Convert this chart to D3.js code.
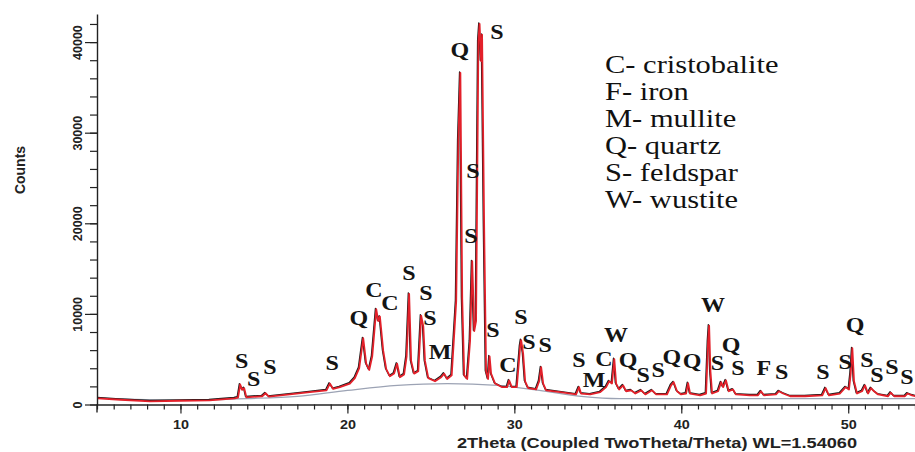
<!DOCTYPE html>
<html>
<head>
<meta charset="utf-8">
<script src="https://cdn.jsdelivr.net/npm/d3@7"></script>
<style>
  html, body { margin: 0; padding: 0; background: #fff; }
  svg { display: block; }
</style>
</head>
<body>
<svg id="chart" width="915" height="452"></svg>
<script>
// ---- data ----
// diffraction pattern: [2theta (deg), counts]
const patternPoints = [
  [5.0,770],[6.35,610],[8.14,440],[9.94,500],[11.7,550],[13.2,770],[13.4,850],[13.53,2300],[13.65,1700],[13.77,1900],[13.9,880],
  [14.85,1000],[15.05,1330],[15.25,950],[16.5,1200],[17.7,1450],[18.7,1650],[18.9,2400],[19.1,1800],[19.5,2000],[20.1,2400],
  [20.4,3000],[20.66,4100],[20.9,7400],[21.08,4600],[21.26,3900],[21.44,5400],[21.68,10600],[21.8,9300],[21.9,9800],[22.1,6000],
  [22.28,4000],[22.5,3200],[22.75,3500],[22.93,4600],[23.1,3100],[23.35,3400],[23.5,5400],[23.65,12300],[23.77,4900],[23.95,3500],
  [24.2,3750],[24.37,9900],[24.5,8700],[24.6,4900],[24.8,3000],[25.2,2650],[25.57,3100],[25.75,3500],[25.93,2900],[26.2,3300],
  [26.47,11500],[26.6,29200],[26.72,36700],[26.83,11800],[26.95,3300],[27.13,2900],[27.3,7100],[27.43,15900],[27.55,8200],[27.66,9300],
  [27.8,40200],[27.87,42100],[27.96,38000],[28.02,40900],[28.14,20300],[28.26,3750],[28.38,2900],[28.47,5400],[28.56,3500],[28.8,2400],
  [29.22,2000],[29.52,2000],[29.64,2750],[29.8,2000],[30.1,2000],[30.3,6500],[30.36,7200],[30.48,5700],[30.6,2650],[30.78,1900],
  [31.26,1750],[31.44,2650],[31.56,4200],[31.68,2400],[31.86,1650],[32.7,1450],[33.65,1200],[33.83,2000],[33.95,1300],[34.5,1200],
  [35.1,1450],[35.45,2000],[35.63,2650],[35.8,2400],[35.94,5100],[36.05,2400],[36.23,1750],[36.47,2200],[36.65,1550],[36.95,1650],
  [37.2,1300],[37.55,1650],[37.8,1200],[38.2,1650],[38.45,1200],[39.1,1200],[39.34,2200],[39.5,2550],[39.7,1550],[39.94,1200],
  [40.24,1300],[40.36,2450],[40.48,1300],[41.08,1100],[41.44,1300],[41.56,7100],[41.62,8800],[41.7,3750],[41.8,1300],[42.16,1550],
  [42.34,2550],[42.46,2000],[42.63,2750],[42.8,1550],[43.05,1750],[43.23,1200],[44.07,1100],[44.55,1100],[44.73,1550],[44.9,1100],
  [45.63,1200],[45.8,1550],[46.05,1300],[46.47,1000],[47.37,1000],[48.4,1100],[48.6,1900],[48.8,1100],[49.46,1300],[49.8,2000],
  [50.0,1750],[50.1,3500],[50.2,6300],[50.3,2650],[50.48,1300],[50.78,1550],[50.96,2200],[51.14,1300],[51.32,1900],[51.5,1550],
  [51.74,1200],[52.34,1000],[52.5,1400],[52.7,1000],[53.35,1000],[53.5,1300],[53.77,1100],[54.0,1000]
];

// amorphous background hump: [2theta, counts]
const amorphousBackground = [
  [5,700],[10,480],[14,650],[17,900],[20,1550],[23,2100],[26,2300],[29,2100],[31.5,1550],[34,900],[36.3,650],[54,650]
];

// phase marks: [letter, 2theta, counts] (label anchor in data units)
const phaseLabels = [
  ["S",13.66,4800],["S",14.38,2800],["S",15.36,4140],["S",19.08,4580],["Q",20.69,9550],["C",21.59,12640],
  ["C",22.55,11200],["S",23.69,14520],["S",24.71,12310],["S",24.95,9550],["M",25.55,5800],["Q",26.74,39140],
  ["S",28.96,41120],["S",27.52,25780],["S",27.40,18600],["S",28.72,8220],["C",29.62,4360],["S",30.40,9660],
  ["S",30.88,6900],["S",31.84,6570],["S",33.87,4910],["M",34.77,2700],["C",35.37,5020],["W",36.09,7670],
  ["Q",36.81,4910],["S",37.71,3260],["S",38.61,3810],["Q",39.44,5240],["Q",40.64,4800],["W",41.90,10980],
  ["S",42.17,4580],["Q",42.98,6570],["S",43.40,4030],["F",44.95,4030],["S",46.01,3590],["S",48.49,3590],
  ["S",49.81,4690],["Q",50.41,8780],["S",51.12,4910],["S",51.72,3260],["S",52.62,4140],["S",53.52,3040]
];

const legendItems = ["C- cristobalite", "F- iron", "M- mullite", "Q- quartz", "S- feldspar", "W- wustite"];

const xMajorTicks = [10, 20, 30, 40, 50];
const xMinorTicks = d3.range(5, 55, 1);
const yMajorTicks = [0, 10000, 20000, 30000, 40000];
const yMinorTicks = d3.range(0, 43001, 2000);

const xTitle = "2Theta (Coupled TwoTheta/Theta) WL=1.54060";
const yTitle = "Counts";

// ---- drawing ----
const svg = d3.select("#chart");
const x = d3.scaleLinear().domain([5, 54]).range([97, 915]);
const y = d3.scaleLinear().domain([0, 43100]).range([404.5, 14]);

// background hump
svg.append("path")
  .datum(amorphousBackground)
  .attr("fill", "none")
  .attr("stroke", "#9ca3b4")
  .attr("stroke-width", 1.2)
  .attr("d", d3.line().x(d => x(d[0])).y(d => y(d[1])).curve(d3.curveMonotoneX));

const line = d3.line().x(d => x(d[0])).y(d => y(d[1]));

svg.append("path")
  .datum(patternPoints)
  .attr("fill", "none")
  .attr("stroke", "#1a1a1a")
  .attr("stroke-width", 1.4)
  .attr("stroke-linejoin", "round")
  .attr("d", line);

svg.append("path")
  .datum(patternPoints)
  .attr("fill", "none")
  .attr("stroke", "#e3202a")
  .attr("stroke-width", 1.8)
  .attr("stroke-linejoin", "round")
  .attr("transform", "translate(0.8,0.8)")
  .attr("d", line);

// axes
function styleAxis(g) {
  g.select(".domain").attr("stroke", "#222").attr("stroke-width", 1.4);
  g.selectAll(".tick line").attr("stroke", "#222").attr("stroke-width", 1.2);
}

const yAxisMinor = svg.append("g").attr("transform", "translate(97,0)")
  .call(d3.axisLeft(y).tickValues(yMinorTicks).tickSize(7).tickSizeOuter(0).tickFormat(""));
styleAxis(yAxisMinor);
const yAxisMajor = svg.append("g").attr("transform", "translate(97,0)")
  .call(d3.axisLeft(y).tickValues(yMajorTicks).tickSize(12).tickSizeOuter(0).tickFormat(d3.format("d")));
styleAxis(yAxisMajor);
yAxisMajor.select(".domain").remove();
yAxisMajor.selectAll(".tick text")
  .attr("x", null).attr("dy", null)
  .attr("text-anchor", "middle")
  .attr("transform", "translate(-15,0) rotate(-90)")
  .attr("font-family", "Liberation Sans, Arial, sans-serif")
  .attr("font-weight", "bold")
  .attr("font-size", 12.5)
  .attr("fill", "#222");

const xAxisMinor = svg.append("g").attr("transform", "translate(0,404.5)")
  .call(d3.axisBottom(x).tickValues(xMinorTicks).tickSize(5).tickSizeOuter(0).tickFormat(""));
styleAxis(xAxisMinor);
const xAxisMajor = svg.append("g").attr("transform", "translate(0,404.5)")
  .call(d3.axisBottom(x).tickValues(xMajorTicks).tickSize(9).tickSizeOuter(0).tickFormat(d3.format("d")));
styleAxis(xAxisMajor);
xAxisMajor.select(".domain").remove();
xAxisMajor.selectAll(".tick text")
  .attr("y", null).attr("dy", null)
  .attr("transform", "translate(0,24) scale(1.2,1)")
  .attr("font-family", "Liberation Sans, Arial, sans-serif")
  .attr("font-weight", "bold")
  .attr("font-size", 12)
  .attr("fill", "#222");

// y-axis extension below origin (tick at 2theta = 5)
svg.append("line")
  .attr("x1", x(5)).attr("x2", x(5))
  .attr("y1", y(0)).attr("y2", y(0) + 8)
  .attr("stroke", "#222").attr("stroke-width", 1.4);

// axis titles
svg.append("text")
  .attr("transform", "translate(657,448) scale(1.3,1)")
  .attr("text-anchor", "middle")
  .attr("font-family", "Liberation Sans, Arial, sans-serif")
  .attr("font-weight", "bold")
  .attr("font-size", 14)
  .attr("fill", "#222")
  .text(xTitle);

svg.append("text")
  .attr("transform", "translate(25,170) rotate(-90)")
  .attr("text-anchor", "middle")
  .attr("font-family", "Liberation Sans, Arial, sans-serif")
  .attr("font-weight", "bold")
  .attr("font-size", 14)
  .attr("fill", "#222")
  .text(yTitle);

// phase marks
svg.append("g").selectAll("text")
  .data(phaseLabels)
  .join("text")
  .attr("transform", d => `translate(${x(d[1])},${y(d[2])}) scale(1.2,1)`)
  .attr("text-anchor", "middle")
  .attr("dominant-baseline", "central")
  .attr("font-family", "Liberation Serif, Times New Roman, serif")
  .attr("font-weight", "bold")
  .attr("font-size", 20)
  .attr("fill", "#141414")
  .text(d => d[0]);

// legend
svg.append("g").selectAll("text")
  .data(legendItems)
  .join("text")
  .attr("transform", (d, i) => `translate(605,${73 + i * 27}) scale(1.22,1)`)
  .attr("font-family", "Liberation Serif, Times New Roman, serif")
  .attr("font-size", 25)
  .attr("fill", "#111")
  .text(d => d);
</script>
</body>
</html>
